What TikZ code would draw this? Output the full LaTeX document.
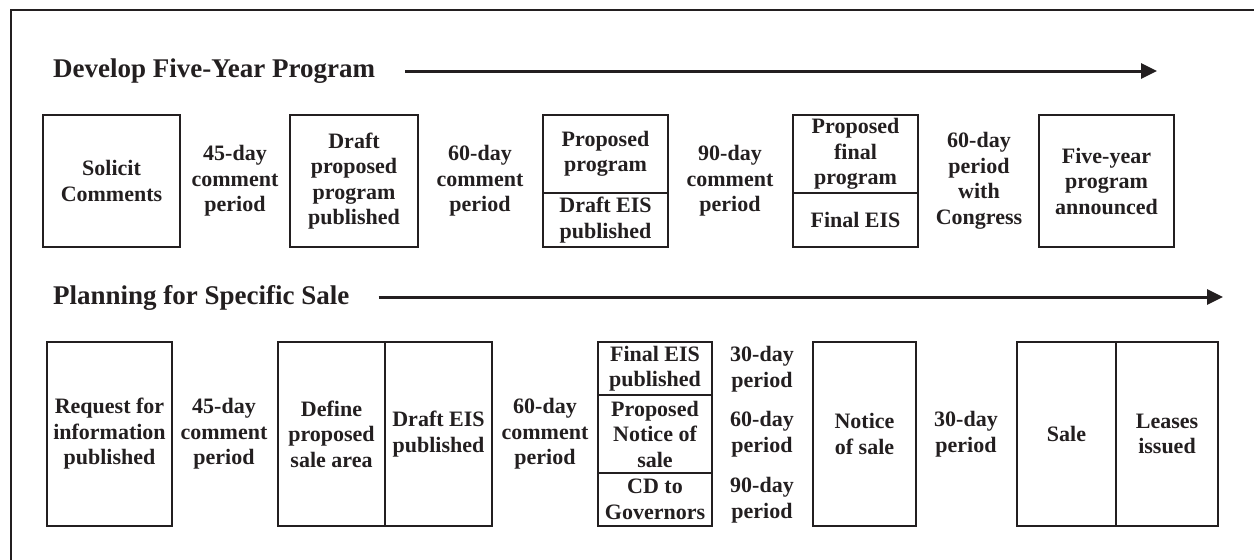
\documentclass[tikz,border=0pt]{standalone}
\usepackage{fontspec}
\setmainfont{Liberation Serif}
\usetikzlibrary{positioning,arrows.meta}
\definecolor{ink}{HTML}{231F20}
\newcommand{\boxfont}{\fontsize{22}{25.5}\selectfont\bfseries}
\newcommand{\headfont}{\fontsize{27}{32}\selectfont\bfseries}
\tikzset{
  stage/.style={draw=ink, line width=1.6pt, inner sep=0pt, outer sep=0pt, align=center, anchor=north west},
  gap/.style={align=center, inner sep=0pt},
  heading/.style={font=\headfont, anchor=base west, inner sep=0pt},
  timeline/.style={draw=ink, line width=3pt, -{Triangle[length=16pt,width=15pt]}}
}
\begin{document}
\begin{tikzpicture}[x=1pt, y=-1pt, every node/.style={font=\boxfont, text=ink}]
  \useasboundingbox (0,0) rectangle (1254,560);
  \draw[ink, line width=2.5pt] (1254,10) -- (11,10) -- (11,560);

  \node[heading] (devhead) at (53,77) {Develop Five-Year Program};
  \coordinate (devend) at (1157,71);
  \draw[timeline] ([xshift=30pt]devhead.east |- devend) -- (devend);

  \node[stage, minimum width=137pt, minimum height=132pt] (solicit) at (43,115) {Solicit\\Comments};
  \node[gap] (c45) at (235,181) {45-day\\comment\\period};
  \node[stage, minimum width=128pt, minimum height=132pt] (draftprog) at (290,115) {Draft\\proposed\\program\\published};
  \node[gap] (c60) at (480,181) {60-day\\comment\\period};
  \node[stage, minimum width=125pt, minimum height=78pt] (propprog) at (543,115) {Proposed\\program};
  \node[stage, minimum width=125pt, minimum height=54pt, below=0pt of propprog] (drafteis) {Draft EIS\\published};
  \node[gap] (c90) at (730,181) {90-day\\comment\\period};
  \node[stage, minimum width=125pt, minimum height=78pt] (propfinal) at (793,115) {Proposed\\final\\program};
  \node[stage, minimum width=125pt, minimum height=54pt, below=0pt of propfinal] (finaleis) {Final EIS};
  \node[gap] (cong) at (979,181) {60-day\\period\\with\\Congress};
  \node[stage, minimum width=135pt, minimum height=132pt] (announce) at (1039,115) {Five-year\\program\\announced};

  \node[heading] (salehead) at (53,304) {Planning for Specific Sale};
  \coordinate (saleend) at (1223,297);
  \draw[timeline] ([xshift=29pt]salehead.east |- saleend) -- (saleend);

  \node[stage, minimum width=125pt, minimum height=184pt] (rfi) at (47,342) {Request for\\information\\published};
  \node[gap] (s45) at (224,434) {45-day\\comment\\period};
  \node[stage, minimum width=107pt, minimum height=184pt] (area) at (278,342) {Define\\proposed\\sale area};
  \node[stage, minimum width=107pt, minimum height=184pt, right=0pt of area] (deis) {Draft EIS\\published};
  \node[gap] (s60) at (545,434) {60-day\\comment\\period};
  \node[stage, minimum width=114pt, minimum height=53pt] (feis) at (598,342) {Final EIS\\published};
  \node[stage, minimum width=114pt, minimum height=78pt, below=0pt of feis] (pnos) {Proposed\\Notice of\\sale};
  \node[stage, minimum width=114pt, minimum height=53pt, below=0pt of pnos] (cdgov) {CD to\\Governors};
  \node[gap] (d30) at (762,369) {30-day\\period};
  \node[gap] (d60) at (762,434) {60-day\\period};
  \node[gap] (d90) at (762,500) {90-day\\period};
  \node[stage, minimum width=103pt, minimum height=184pt] (nos) at (813,342) {Notice\\of sale};
  \node[gap] (w30) at (966,434) {30-day\\period};
  \node[stage, minimum width=99pt, minimum height=184pt] (sale) at (1017,342) {Sale};
  \node[stage, minimum width=102pt, minimum height=184pt, right=0pt of sale] (leases) {Leases\\issued};
\end{tikzpicture}
\end{document}
